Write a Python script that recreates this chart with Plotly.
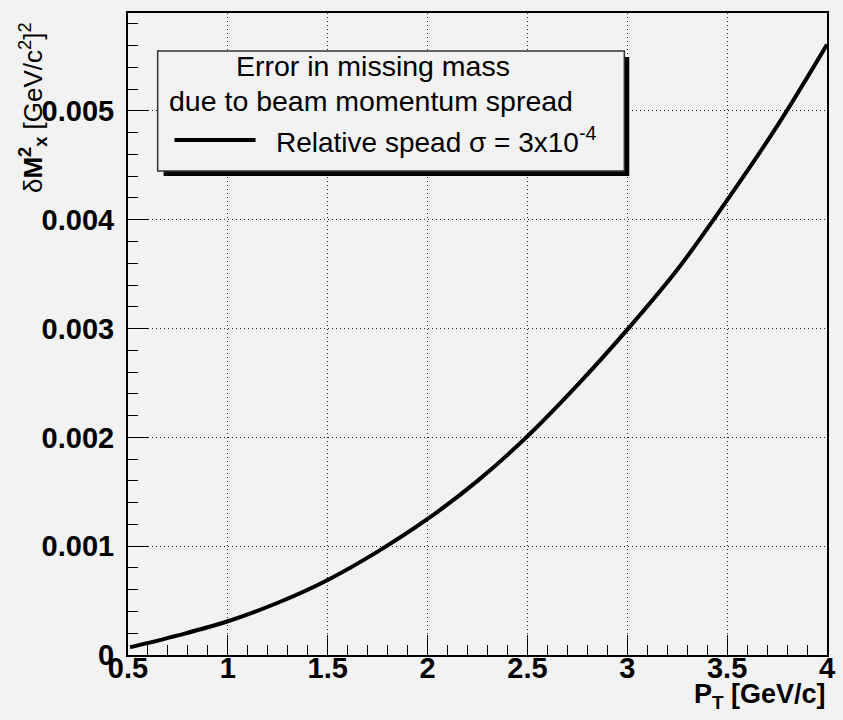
import plotly.graph_objects as go

# ---- data ----
pt = [0.51, 0.75, 1.0, 1.25, 1.5, 1.75, 2.0, 2.25, 2.5, 2.75, 3.0, 3.25, 3.5, 3.75, 4.0]
dm2 = [0.00007, 0.00018, 0.00031, 0.00048, 0.00069, 0.00095, 0.00125, 0.00160,
       0.00201, 0.00248, 0.00299, 0.00354, 0.00418, 0.00486, 0.00561]
y_tickvals = [0, 0.001, 0.002, 0.003, 0.004, 0.005]
y_ticktext = ["0", "0.001", "0.002", "0.003", "0.004", "0.005"]
x_tickvals = [0.5, 1, 1.5, 2, 2.5, 3, 3.5, 4]
x_ticktext = ["0.5", "1", "1.5", "2", "2.5", "3", "3.5", "4"]
legend_header = ["Error in missing mass", "due to beam momentum spread"]
legend_entry = "Relative spead σ = 3x10<sup>-4</sup>"

W, H = 843, 720
L, R, T, B = 128, 835, 13, 655
BG = "#f2f2f2"
FONT = "Liberation Sans, Arial, sans-serif"


def px(x):
    return (x - L) / (R - L)


def py(y):
    return (B - y) / (B - T)


fig = go.Figure()
fig.add_trace(go.Scatter(x=pt, y=dm2, mode="lines", line=dict(color="black", width=4, shape="spline"),
                         showlegend=False, hoverinfo="skip"))

axis_common = dict(
    showline=True, linecolor="black", linewidth=2, mirror=True,
    ticks="inside", ticklen=20, tickcolor="black", tickwidth=1,
    showgrid=True, gridcolor="#222222", gridwidth=1, griddash="1px,3px",
    zeroline=False,
    tickfont=dict(family=FONT, size=29, color="black", weight="bold"),
)

fig.update_xaxes(range=[0.5, 4], tickvals=x_tickvals, ticktext=x_ticktext,
                 minor=dict(dtick=0.1, ticks="inside", ticklen=10, tickcolor="black", showgrid=False),
                 ticklabelstandoff=-14, **axis_common)
fig.update_yaxes(range=[0, 0.0059], tickvals=y_tickvals, ticktext=y_ticktext,
                 minor=dict(dtick=0.0002, ticks="inside", ticklen=10, tickcolor="black", showgrid=False),
                 ticklabelstandoff=6, **axis_common)

shapes = []
# legend shadow and box
shapes.append(dict(type="rect", xref="paper", yref="paper", x0=px(164), x1=px(635), y0=py(176), y1=py(57),
                   fillcolor="black", line=dict(width=0), layer="above"))
shapes.append(dict(type="rect", xref="paper", yref="paper", x0=px(158), x1=px(630), y0=py(171), y1=py(51),
                   fillcolor=BG, line=dict(color="#333333", width=1.5), layer="above"))
shapes.append(dict(type="line", xref="paper", yref="paper", x0=px(175), x1=px(257), y0=py(140), y1=py(140),
                   line=dict(color="black", width=4), layer="above"))

annotations = [
    dict(xref="paper", yref="paper", x=px(376), y=py(66), text=legend_header[0], showarrow=False,
         font=dict(family=FONT, size=28.5, color="black"), xanchor="center", yanchor="middle"),
    dict(xref="paper", yref="paper", x=px(374), y=py(101), text=legend_header[1], showarrow=False,
         font=dict(family=FONT, size=28.5, color="black"), xanchor="center", yanchor="middle"),
    dict(xref="paper", yref="paper", x=px(276), y=py(140), text=legend_entry, showarrow=False,
         font=dict(family=FONT, size=28, color="black"), xanchor="left", yanchor="middle"),
    dict(xref="paper", yref="paper", x=px(836), y=py(696), text="<b>P<sub>T</sub> [GeV/c]</b>", showarrow=False,
         font=dict(family=FONT, size=27, color="black"), xanchor="right", yanchor="middle"),
    dict(xref="paper", yref="paper", x=px(32), y=py(108), textangle=-90,
         text="δ<b>M<sup>2</sup><sub>x</sub></b> [GeV/c<sup>2</sup>]<sup>2</sup>", showarrow=False,
         font=dict(family=FONT, size=26, color="black"), xanchor="center", yanchor="middle"),
]

fig.update_layout(
    width=W, height=H,
    margin=dict(l=L, r=W - R, t=T, b=H - B),
    paper_bgcolor=BG, plot_bgcolor=BG,
    shapes=shapes, annotations=annotations,
    showlegend=False,
)

fig.write_html("out.html")
